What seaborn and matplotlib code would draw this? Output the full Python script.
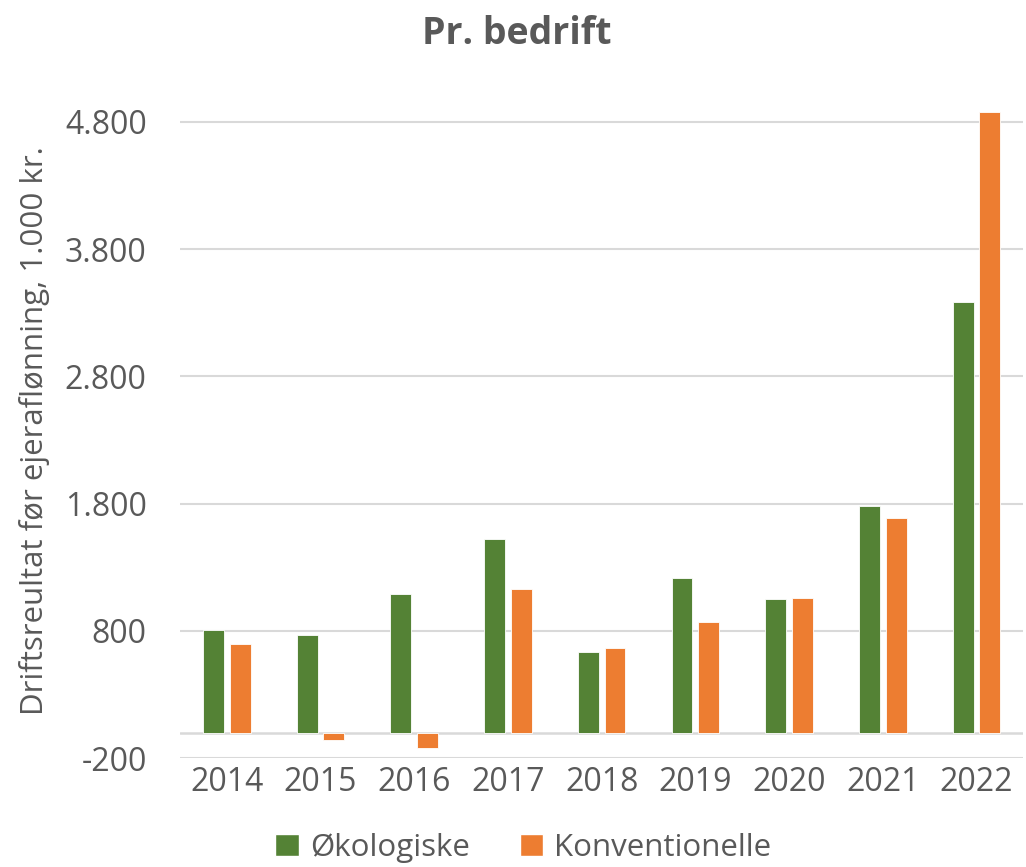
import matplotlib
matplotlib.use("Agg")
import matplotlib.pyplot as plt
import seaborn as sns
import pandas as pd
from matplotlib.patches import Patch

years = ["2014", "2015", "2016", "2017", "2018", "2019", "2020", "2021", "2022"]
oekologiske = [805, 769, 1090, 1523, 630, 1219, 1051, 1780, 3383]
konventionelle = [695, -60, -120, 1130, 661, 873, 1057, 1688, 4879]
series = ["Økologiske", "Konventionelle"]
yticks = [-200, 800, 1800, 2800, 3800, 4800]
ytick_labels = ["-200", "800", "1.800", "2.800", "3.800", "4.800"]

GREEN = "#548235"
ORANGE = "#ED7D31"
TEXT = "#595959"
GRID = "#D9D9D9"

df = pd.DataFrame({
    "year": years * 2,
    "value": oekologiske + konventionelle,
    "type": [series[0]] * len(years) + [series[1]] * len(years),
})

sns.set_style("white")
plt.rcParams["font.family"] = ["Open Sans", "DejaVu Sans"]

fig = plt.figure(figsize=(10.26, 8.67), dpi=100)
ax = fig.add_axes([0.1754, 0.1257, 0.822, 0.7556])

sns.barplot(data=df, x="year", y="value", hue="type", order=years,
            hue_order=series, palette=[GREEN, ORANGE], saturation=1,
            width=0.57, gap=0.22, edgecolor="white", linewidth=0.6,
            legend=False, ax=ax)

ax.set_ylim(-200, 4950)
ax.set_xlim(-0.5, len(years) - 0.5)
ax.set_yticks(yticks)
ax.set_yticklabels(ytick_labels)
ax.yaxis.grid(True, color=GRID, linewidth=1.5)
ax.axhline(0, color=GRID, linewidth=1.8, zorder=0.5)
ax.set_axisbelow(True)
for s in ax.spines.values():
    s.set_visible(False)
ax.tick_params(axis="y", length=0, pad=24, labelsize=23, labelcolor=TEXT)
ax.tick_params(axis="x", length=0, pad=6, labelsize=23, labelcolor=TEXT)
ax.set_xlabel("")
ax.set_ylabel("Driftsreultat før ejeraflønning, 1.000 kr.", fontsize=22.5,
              color=TEXT, va="center")
ax.yaxis.set_label_coords(-0.172, 0.50)

fig.suptitle("Pr. bedrift", x=0.504, y=0.983, fontsize=27, fontweight="bold",
             color=TEXT)

handles = [Patch(facecolor=GREEN, label=series[0]),
           Patch(facecolor=ORANGE, label=series[1])]
fig.legend(handles=handles, loc="center", bbox_to_anchor=(0.51, 0.022),
           ncol=2, frameon=False, fontsize=22.5, labelcolor=TEXT,
           handlelength=0.75, handleheight=0.75, handletextpad=0.35,
           columnspacing=1.6, borderpad=0)

fig.savefig("out.png", dpi=100)
plt.close(fig)
